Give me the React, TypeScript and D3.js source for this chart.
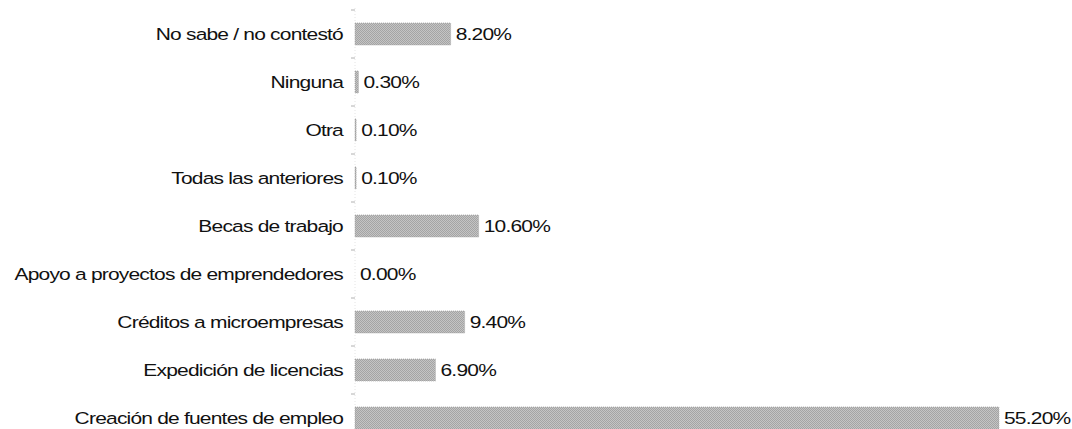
import React from "react";
import * as d3 from "d3";

const categories = [
  "No sabe / no contestó",
  "Ninguna",
  "Otra",
  "Todas las anteriores",
  "Becas de trabajo",
  "Apoyo a proyectos de emprendedores",
  "Créditos a microempresas",
  "Expedición de licencias",
  "Creación de fuentes de empleo",
];
const values = [8.2, 0.3, 0.1, 0.1, 10.6, 0.0, 9.4, 6.9, 55.2];
const valueLabels = ["8.20%", "0.30%", "0.10%", "0.10%", "10.60%", "0.00%", "9.40%", "6.90%", "55.20%"];

const W = 1072;
const H = 429;
const axisX = 355;
const SX = 1.235;

export default function App() {
  const x = d3.scaleLinear().domain([0, 55.2]).range([axisX, 999]);
  const y = d3.scaleBand<string>().domain(categories).range([10, 442]).paddingInner(0.54).paddingOuter(0.27);
  const ticks = d3.range(categories.length).map((i) => 10 + i * y.step());
  const font = "'Liberation Sans', Arial, sans-serif";
  const textProps = {
    dominantBaseline: "central" as const,
    fontFamily: font,
    fontSize: 17,
    letterSpacing: -0.65,
    fill: "#111",
  };
  return (
    <svg width={W} height={H} style={{ position: "absolute", left: 0, top: 0, background: "#fff" }}>
      <defs>
        <pattern id="dots" width="2" height="2" patternUnits="userSpaceOnUse">
          <rect width="2" height="2" fill="#c4c4c4" />
          <rect width="1" height="1" fill="#a4a4a4" />
          <rect x="1" y="1" width="1" height="1" fill="#a4a4a4" />
        </pattern>
      </defs>
      <line x1={axisX} x2={axisX} y1={8} y2={H} stroke="#e4e4e4" strokeWidth={1} strokeDasharray="1 2" />
      {ticks.map((t, i) => (
        <line key={i} x1={axisX - 4} x2={axisX} y1={t} y2={t} stroke="#b0b0b0" strokeWidth={1} />
      ))}
      {categories.map((c, i) => {
        const yy = y(c)!;
        const bw = x(values[i]) - x(0);
        const cy = yy + y.bandwidth() / 2;
        return (
          <g key={c}>
            {bw > 0 && (
              <rect x={x(0)} y={yy} width={bw} height={y.bandwidth()} fill="url(#dots)" stroke="#a0a0a0" strokeWidth={0.6} strokeDasharray="1 1" />
            )}
            <g transform={`translate(${axisX - 12},${cy}) scale(${SX},1)`}>
              <text {...textProps} textAnchor="end">{c}</text>
            </g>
            <g transform={`translate(${x(values[i]) + 5},${cy}) scale(${SX},1)`}>
              <text {...textProps}>{valueLabels[i]}</text>
            </g>
          </g>
        );
      })}
    </svg>
  );
}
